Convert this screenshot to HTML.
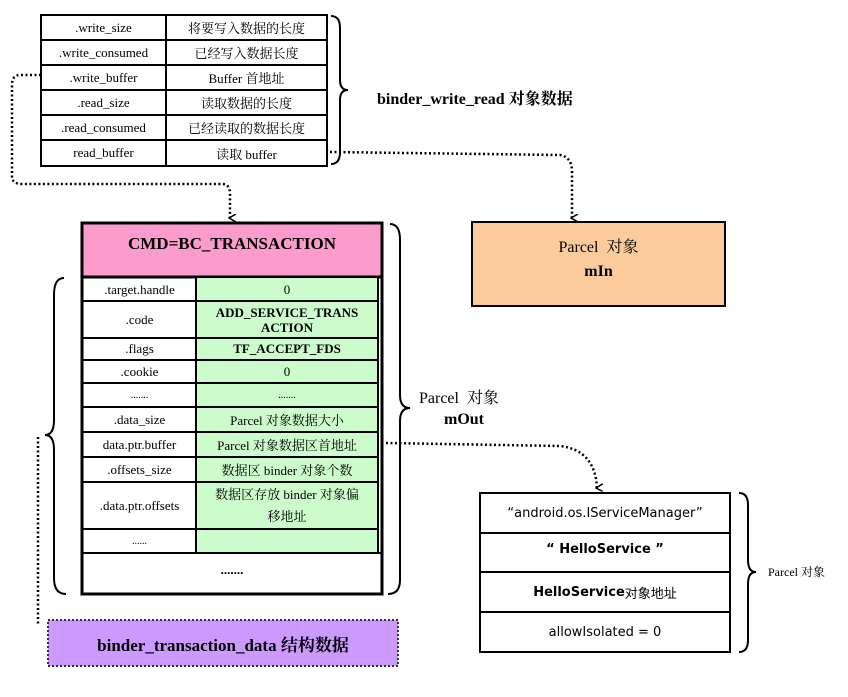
<!DOCTYPE html>
<html><head><meta charset="utf-8"><style>
body{margin:0;background:#fff;width:848px;height:697px;position:relative;overflow:hidden;font-family:"Liberation Serif","Noto Serif CJK SC","Noto Sans CJK SC",serif;}
.a{position:absolute;box-sizing:border-box;}
.c{display:flex;align-items:center;justify-content:center;text-align:center;}
</style></head><body>
<svg width="848" height="697" style="position:absolute;left:0;top:0" xmlns="http://www.w3.org/2000/svg">
<defs><marker id="ar" markerWidth="8" markerHeight="8" refX="4" refY="6" orient="auto" markerUnits="userSpaceOnUse"><path d="M0,0 L4,7 L8,0" fill="none" stroke="#000" stroke-width="1.5"/></marker></defs>
<!-- top table -->
<g stroke="#000" stroke-width="2" fill="#fff">
<rect x="41" y="15" width="286" height="151"/>
<line x1="166" y1="15" x2="166" y2="166"/>
<line x1="41" y1="40" x2="327" y2="40"/><line x1="41" y1="65" x2="327" y2="65"/><line x1="41" y1="90" x2="327" y2="90"/><line x1="41" y1="115" x2="327" y2="115"/><line x1="41" y1="140" x2="327" y2="140"/>
</g>
<g fill="none" stroke="#000" stroke-width="2">
<path d="M331,16 Q340,16 340,28 L340,80 Q340,90 348,90 Q340,90 340,100 L340,152 Q340,164 331,164"/>
<path d="M390,224 Q400,224 400,240 L400,395 Q400,408 410,408 Q400,408 400,421 L400,580 Q400,594 388,594"/>
<path d="M64,278 Q54,278 54,295 L54,420 Q54,435 45,435 Q54,435 54,450 L54,578 Q54,594 66,594"/>
<path d="M739,493 Q748,493 748,505 L748,560 Q748,572 756,572 Q748,572 748,584 L748,640 Q748,652 739,652"/>
</g>
<g fill="none" stroke="#000" stroke-width="2.5" stroke-dasharray="2,2.5">
<path d="M41,75 L20,75 Q12,75 12,85 L12,176 Q12,184 22,184 L222,184 Q230,184 230,194 L230,218" marker-end="url(#ar)"/>
<path d="M330,152 L560,155 Q572,157 572,172 L572,218" marker-end="url(#ar)"/>
<path d="M386,443 L560,446 Q595,450 597,488" marker-end="url(#ar)"/>
<path d="M38,437 L38,625"/>
</g>
<!-- mIn box -->
<rect x="472" y="222" width="253" height="84" fill="#fccb9b" stroke="#000" stroke-width="2"/>
<!-- big box -->
<rect x="82" y="223" width="300" height="371" fill="#fff" stroke="#000" stroke-width="3"/>
<rect x="83.5" y="224.5" width="297" height="52" fill="#fc9ccc"/>
<line x1="82" y1="277" x2="382" y2="277" stroke="#000" stroke-width="3"/>
<rect x="197" y="278" width="181" height="275" fill="#ccfccc"/>
<g stroke="#000" stroke-width="2">
<line x1="196" y1="278" x2="196" y2="553"/><line x1="378" y1="278" x2="378" y2="553"/>
<line x1="83" y1="301" x2="378" y2="301"/><line x1="83" y1="338" x2="378" y2="338"/><line x1="83" y1="360" x2="378" y2="360"/><line x1="83" y1="383" x2="378" y2="383"/><line x1="83" y1="407" x2="378" y2="407"/><line x1="83" y1="432" x2="378" y2="432"/><line x1="83" y1="457" x2="378" y2="457"/><line x1="83" y1="482" x2="378" y2="482"/><line x1="83" y1="529" x2="378" y2="529"/><line x1="83" y1="553" x2="382" y2="553"/>
</g>
<!-- purple -->
<rect x="48" y="620" width="350" height="46" fill="#cc99ff" stroke="#333" stroke-width="2" stroke-dasharray="2,2"/>
<!-- right table -->
<g stroke="#000" stroke-width="2" fill="#fff">
<rect x="480" y="493" width="250" height="159"/>
<line x1="480" y1="533" x2="730" y2="533"/><line x1="480" y1="572" x2="730" y2="572"/><line x1="480" y1="612" x2="730" y2="612"/>
</g>
</svg>
<div style="font-size:13px">
<div class="a c" style="left:41px;top:15px;width:125px;height:25px">.write_size</div>
<div class="a c" style="left:166px;top:15px;width:161px;height:25px">将要写入数据的长度</div>
<div class="a c" style="left:41px;top:40px;width:125px;height:25px">.write_consumed</div>
<div class="a c" style="left:166px;top:40px;width:161px;height:25px">已经写入数据长度</div>
<div class="a c" style="left:41px;top:65px;width:125px;height:25px">.write_buffer</div>
<div class="a c" style="left:166px;top:65px;width:161px;height:25px">Buffer 首地址</div>
<div class="a c" style="left:41px;top:90px;width:125px;height:25px">.read_size</div>
<div class="a c" style="left:166px;top:90px;width:161px;height:25px">读取数据的长度</div>
<div class="a c" style="left:41px;top:115px;width:125px;height:25px">.read_consumed</div>
<div class="a c" style="left:166px;top:115px;width:161px;height:25px">已经读取的数据长度</div>
<div class="a c" style="left:41px;top:140px;width:125px;height:26px">read_buffer</div>
<div class="a c" style="left:166px;top:140px;width:161px;height:26px">读取 buffer</div>
</div>
<div class="a" style="left:377px;top:86px;font-size:16px;font-weight:bold;white-space:nowrap">binder_write_read 对象数据</div>
<div class="a c" style="left:472px;top:232px;width:253px;height:26px;font-size:16px">Parcel&nbsp; 对象</div>
<div class="a c" style="left:472px;top:259px;width:253px;height:26px;font-size:16px;font-weight:bold">mIn</div>
<div class="a c" style="left:82px;top:224px;width:300px;height:40px;font-size:17px;font-weight:bold">CMD=BC_TRANSACTION</div>
<div style="font-size:13px">
<div class="a c" style="left:83px;top:278px;width:113px;height:23px">.target.handle</div>
<div class="a c" style="left:196px;top:278px;width:182px;height:23px">0</div>
<div class="a c" style="left:83px;top:301px;width:113px;height:37px">.code</div>
<div class="a c" style="left:196px;top:301px;width:182px;height:37px;font-weight:bold;line-height:15px">ADD_SERVICE_TRANS<br>ACTION</div>
<div class="a c" style="left:83px;top:338px;width:113px;height:22px">.flags</div>
<div class="a c" style="left:196px;top:338px;width:182px;height:22px;font-weight:bold">TF_ACCEPT_FDS</div>
<div class="a c" style="left:83px;top:360px;width:113px;height:23px">.cookie</div>
<div class="a c" style="left:196px;top:360px;width:182px;height:23px">0</div>
<div class="a c" style="left:83px;top:383px;width:113px;height:24px;font-size:10px">.......</div>
<div class="a c" style="left:196px;top:383px;width:182px;height:24px;font-size:10px">.......</div>
<div class="a c" style="left:83px;top:407px;width:113px;height:25px">.data_size</div>
<div class="a c" style="left:196px;top:407px;width:182px;height:25px">Parcel 对象数据大小</div>
<div class="a c" style="left:83px;top:432px;width:113px;height:25px">data.ptr.buffer</div>
<div class="a c" style="left:196px;top:432px;width:182px;height:25px">Parcel 对象数据区首地址</div>
<div class="a c" style="left:83px;top:457px;width:113px;height:25px">.offsets_size</div>
<div class="a c" style="left:196px;top:457px;width:182px;height:25px">数据区 binder 对象个数</div>
<div class="a c" style="left:83px;top:482px;width:113px;height:47px">.data.ptr.offsets</div>
<div class="a c" style="left:196px;top:482px;width:182px;height:47px;line-height:22px">数据区存放 binder 对象偏<br>移地址</div>
<div class="a c" style="left:83px;top:529px;width:113px;height:24px;font-size:10px">......</div>
<div class="a c" style="left:82px;top:560px;width:300px;height:20px;font-weight:bold">.......</div>
</div>
<div class="a" style="left:419px;top:385px;font-size:16px;white-space:nowrap">Parcel&nbsp; 对象</div>
<div class="a" style="left:444px;top:411px;font-size:16px;font-weight:bold">mOut</div>
<div class="a c" style="left:48px;top:620px;width:350px;height:46px;font-size:17px;font-weight:bold">binder_transaction_data 结构数据</div>
<div style="font-family:'DejaVu Sans','Liberation Sans','Noto Sans CJK SC',sans-serif;font-size:13px">
<div class="a c" style="left:480px;top:493px;width:250px;height:40px">“android.os.IServiceManager”</div>
<div class="a c" style="left:480px;top:533px;width:250px;height:32px;font-weight:bold">“ HelloService ”</div>
<div class="a c" style="left:480px;top:572px;width:250px;height:40px;font-weight:bold">HelloService<span style="font-weight:normal">对象地址</span></div>
<div class="a c" style="left:480px;top:612px;width:250px;height:40px">allowIsolated = 0</div>
</div>
<div class="a" style="left:768px;top:563px;font-size:12px;white-space:nowrap">Parcel 对象</div>
</body></html>
